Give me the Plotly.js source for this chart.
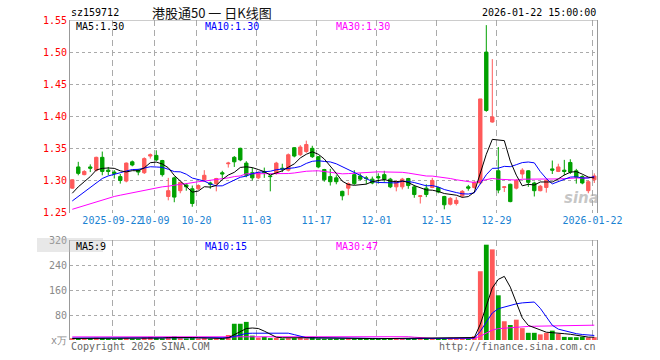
<!DOCTYPE html>
<html><head><meta charset="utf-8">
<script src="https://cdn.plot.ly/plotly-3.0.1.min.js"></script>
<style>html,body{margin:0;padding:0;background:#fff}#chart{width:660px;height:360px}</style>
</head><body><div id="chart"></div>
<script>
const dates = [
'2025-09-11','2025-09-12','2025-09-15','2025-09-16','2025-09-17','2025-09-18','2025-09-19','2025-09-22','2025-09-23','2025-09-24','2025-09-25','2025-09-26','2025-09-29','2025-09-30',
'2025-10-09','2025-10-10','2025-10-13','2025-10-14','2025-10-15','2025-10-16','2025-10-17','2025-10-20','2025-10-21','2025-10-22','2025-10-23','2025-10-24','2025-10-27','2025-10-28','2025-10-29','2025-10-30','2025-10-31',
'2025-11-03','2025-11-04','2025-11-05','2025-11-06','2025-11-07','2025-11-10','2025-11-11','2025-11-12','2025-11-13','2025-11-14','2025-11-17','2025-11-18','2025-11-19','2025-11-20','2025-11-21','2025-11-24','2025-11-25','2025-11-26','2025-11-27','2025-11-28',
'2025-12-01','2025-12-02','2025-12-03','2025-12-04','2025-12-05','2025-12-08','2025-12-09','2025-12-10','2025-12-11','2025-12-12','2025-12-15','2025-12-16','2025-12-17','2025-12-18','2025-12-19','2025-12-22','2025-12-23','2025-12-24','2025-12-25','2025-12-26','2025-12-29','2025-12-30','2025-12-31',
'2026-01-05','2026-01-06','2026-01-07','2026-01-08','2026-01-09','2026-01-12','2026-01-13','2026-01-14','2026-01-15','2026-01-16','2026-01-19','2026-01-20','2026-01-21','2026-01-22'];

const openP = [1.288,1.321,1.309,1.321,1.316,1.336,1.316,1.313,1.306,1.299,1.329,1.316,1.312,1.338,1.339,1.331,1.275,1.304,1.284,1.293,1.287,1.287,1.301,1.296,1.295,1.312,1.326,1.336,1.350,1.327,1.312,1.304,1.314,1.307,1.311,1.319,1.316,1.351,1.340,1.345,1.350,1.337,1.317,1.306,1.304,1.283,1.288,1.309,1.307,1.304,1.302,1.306,1.309,1.302,1.290,1.290,1.303,1.290,1.275,1.288,1.289,1.289,1.275,1.263,1.264,1.276,1.290,1.289,1.296,1.500,1.391,1.315,1.289,1.294,1.288,1.310,1.315,1.296,1.284,1.289,1.318,1.314,1.316,1.328,1.315,1.306,1.284,1.301];
const highP = [1.302,1.329,1.316,1.325,1.337,1.345,1.321,1.316,1.310,1.328,1.331,1.318,1.336,1.342,1.347,1.332,1.304,1.306,1.298,1.296,1.292,1.294,1.316,1.298,1.304,1.315,1.329,1.338,1.351,1.330,1.320,1.314,1.320,1.308,1.329,1.326,1.342,1.352,1.355,1.362,1.354,1.338,1.318,1.318,1.308,1.284,1.297,1.316,1.311,1.307,1.306,1.311,1.315,1.304,1.300,1.304,1.304,1.293,1.277,1.294,1.304,1.290,1.276,1.274,1.274,1.285,1.293,1.299,1.427,1.542,1.489,1.352,1.291,1.295,1.302,1.319,1.316,1.298,1.293,1.302,1.331,1.326,1.332,1.333,1.318,1.308,1.300,1.311];
const lowP = [1.287,1.308,1.308,1.313,1.314,1.308,1.308,1.303,1.295,1.297,1.322,1.308,1.310,1.334,1.330,1.306,1.269,1.266,1.280,1.284,1.259,1.285,1.298,1.287,1.283,1.303,1.320,1.321,1.330,1.305,1.300,1.302,1.304,1.283,1.309,1.313,1.314,1.336,1.338,1.343,1.335,1.319,1.298,1.292,1.294,1.269,1.277,1.293,1.300,1.294,1.294,1.295,1.298,1.288,1.283,1.286,1.287,1.273,1.264,1.274,1.288,1.280,1.255,1.261,1.261,1.273,1.284,1.287,1.294,1.407,1.390,1.280,1.282,1.266,1.286,1.303,1.290,1.275,1.283,1.281,1.310,1.313,1.308,1.310,1.295,1.294,1.280,1.296];
const closeP = [1.301,1.311,1.314,1.319,1.336,1.314,1.314,1.311,1.300,1.327,1.324,1.313,1.334,1.340,1.332,1.309,1.284,1.274,1.297,1.290,1.264,1.292,1.308,1.294,1.303,1.310,1.327,1.329,1.332,1.308,1.304,1.312,1.312,1.306,1.327,1.318,1.340,1.338,1.352,1.356,1.337,1.321,1.301,1.298,1.298,1.276,1.295,1.295,1.302,1.303,1.296,1.304,1.302,1.290,1.298,1.302,1.292,1.278,1.276,1.278,1.300,1.282,1.262,1.272,1.269,1.283,1.288,1.297,1.427,1.409,1.399,1.285,1.290,1.267,1.300,1.316,1.297,1.284,1.291,1.300,1.316,1.321,1.314,1.313,1.305,1.296,1.298,1.307];
const volume = [6,5,4,5,7,6,4,3,5,6,4,3,8,10,6,5,9,11,6,5,8,5,6,4,5,5,16,52,52,58,14,8,10,6,7,5,6,6,8,5,10,5,4,4,4,4,5,4,5,4,5,4,5,4,4,4,5,5,4,5,4,5,5,7,6,7,7,12,220,305,290,143,60,48,65,38,23,23,18,23,30,20,10,9,9,10,8,9];

const ma5Head = [1.280,1.290,1.298,1.306];
const ma10Head = [1.268,1.275,1.282,1.290,1.297,1.303,1.307,1.310,1.312];
const ma30Head = [1.255,1.258,1.261,1.264,1.267,1.270,1.273,1.275,1.277,1.279,1.281,1.283,1.285,1.287,1.288,1.290,1.291,1.293,1.294,1.295,1.297,1.298,1.299,1.300,1.302,1.303,1.304,1.306,1.307];
const vMa5Head = [5,5,5,5];
const vMa10Head = [6,6,6,6,6,6,5,5,5];
const vMa30Head = [10,10,10,10,10,10,10,10,10,10,10,10,10,10,10,10,10,10,10,10,10,10,10,10,10,10,10,10,10];

const tickDates = ['2025-09-22','2025-10-09','2025-10-20','2025-11-03','2025-11-17','2025-12-01','2025-12-15','2025-12-29','2026-01-22'];
const tickLabels = ['2025-09-22','10-09','10-20','11-03','11-17','12-01','12-15','12-29','2026-01-22'];
const priceTicks = [1.25,1.30,1.35,1.40,1.45,1.50,1.55];
const volTicks = [0,80,160,240,320];
const volTickLabels = ['x万','80','160','240','320'];
const legendPrice = ['MA5:1.30','MA10:1.30','MA30:1.30'];
const legendVol = ['MA5:9','MA10:15','MA30:47'];

const RED = '#ff5a5a', GREEN = '#00a000';
const idx = dates.map((d,i)=>i);
function movingAvg(vals, n, head){
  return vals.map((v,i)=>{
    if(i < head.length) return head[i];
    let s = 0; for(let j=i-n+1;j<=i;j++) s += vals[j];
    return s/n;
  });
}
const ma5 = movingAvg(closeP,5,ma5Head), ma10 = movingAvg(closeP,10,ma10Head), ma30 = movingAvg(closeP,30,ma30Head);
const vma5 = movingAvg(volume,5,vMa5Head), vma10 = movingAvg(volume,10,vMa10Head), vma30 = movingAvg(volume,30,vMa30Head);
const volColors = closeP.map((c,i)=> c >= openP[i] ? RED : GREEN);
const tickvals = tickDates.map(d=>dates.indexOf(d)-0.3);

const lineT = (y,color,xa,ya)=>({type:'scatter',mode:'lines',x:idx,y:y,xaxis:xa,yaxis:ya,line:{color:color,width:1},hoverinfo:'skip'});
const traces = [
  {type:'candlestick',x:idx,open:openP,high:highP,low:lowP,close:closeP,xaxis:'x',yaxis:'y',whiskerwidth:0,
   increasing:{line:{color:RED,width:1},fillcolor:RED},decreasing:{line:{color:GREEN,width:1},fillcolor:GREEN},hoverinfo:'skip'},
  lineT(ma30,'#ff00ff','x','y'), lineT(ma10,'#0000ff','x','y'), lineT(ma5,'#000000','x','y'),
  {type:'bar',x:idx,y:volume,xaxis:'x2',yaxis:'y2',marker:{color:volColors,line:{width:0}},hoverinfo:'skip'},
  lineT(vma30,'#ff00ff','x2','y2'), lineT(vma10,'#0000ff','x2','y2'), lineT(vma5,'#000000','x2','y2')
];

const PX = px => (px-70)/527, PY = py => (340-py)/320;
const ann = (text,x,y,xanchor,color,size,extra)=>Object.assign({text:text,x:x,y:y,xref:'paper',yref:'paper',xanchor:xanchor,yanchor:'middle',showarrow:false,borderpad:0,font:{family:'DejaVu Sans Mono',size:size||10,color:color}},extra||{});
const mono = 'DejaVu Sans Mono';
const gridX = {showgrid:true,gridcolor:'#aaaaaa',gridwidth:1,griddash:'6px,4px',zeroline:false,showline:false,ticks:''};
const layout = {
  width:660,height:360,margin:{l:70,r:63,t:20,b:20,pad:0},
  paper_bgcolor:'#ffffff',plot_bgcolor:'#ffffff',showlegend:false,hovermode:false,
  boxgap:0.2,bargap:0.2,
  font:{family:mono,size:10,color:'#000'},
  xaxis:Object.assign({domain:[0,1],anchor:'y',range:[-0.38,87.45],rangeslider:{visible:false},tickmode:'array',tickvals:tickvals,ticktext:tickLabels,tickangle:0,tickfont:{family:mono,size:10,color:'#1a82d2'}},gridX),
  xaxis2:Object.assign({domain:[0,1],anchor:'y2',matches:'x',range:[-0.38,87.45],tickmode:'array',tickvals:tickvals,showticklabels:false},gridX),
  yaxis:{domain:[0.3984,1],anchor:'x',range:[1.25,1.55],tickmode:'array',tickvals:priceTicks,ticktext:priceTicks.map(v=>v.toFixed(2)),showgrid:true,gridcolor:'#aaaaaa',griddash:'dot',zeroline:false,showline:true,linecolor:'#999999',linewidth:1,mirror:true,ticks:'',tickfont:{family:mono,size:10,color:'#ff0000'}},
  yaxis2:{domain:[0,0.3125],anchor:'x2',range:[0,320],tickmode:'array',tickvals:volTicks,ticktext:volTickLabels,showgrid:true,gridcolor:'#aaaaaa',griddash:'dot',zeroline:false,showline:true,linecolor:'#999999',linewidth:1,mirror:true,ticks:'',tickfont:{family:mono,size:10,color:'#8a8a8a'}},
  shapes:[
    {type:'line',xref:'paper',yref:'y',x0:0,x1:1,y0:1.55,y1:1.55,line:{color:'#999999',width:1}},
    {type:'line',xref:'paper',yref:'y2',x0:0,x1:1,y0:320,y1:320,line:{color:'#999999',width:1}},
    {type:'rect',xref:'paper',yref:'paper',x0:PX(37),x1:PX(103),y0:PY(252),y1:PY(238),fillcolor:'rgba(190,190,190,0.35)',line:{width:0},layer:'above'}
  ],
  annotations:[
    ann('sz159712',0,PY(13),'left','#000',10),
    ann('港股通50 一 日K线图',PX(150.7),PY(13),'left','#111',13,{font:{family:'Noto Sans CJK SC',size:13,color:'#111'}}),
    ann('2026-01-22 15:00:00',1,PY(13),'right','#000',10),
    ann(legendPrice[0],PX(75),PY(27),'left','#000000',10),
    ann(legendPrice[1],PX(204.3),PY(27),'left','#0000ff',10),
    ann(legendPrice[2],PX(335),PY(27),'left','#ff00ff',10),
    ann(legendVol[0],PX(75),PY(246.5),'left','#000000',10),
    ann(legendVol[1],PX(204.3),PY(246.5),'left','#0000ff',10),
    ann(legendVol[2],PX(335),PY(246.5),'left','#ff00ff',10),
    ann('Copyright 2026 SINA.COM',0,PY(346),'left','#666666',10),
    ann('http://finance.sina.com.cn',1,PY(346),'right','#666666',10),
    ann('sina',PX(581),PY(198),'center','rgba(160,160,160,0.6)',15,{font:{family:'DejaVu Sans',size:15,color:'rgba(160,160,160,0.6)',style:'italic',weight:'bold'}})
  ]
};
Plotly.newPlot('chart',traces,layout,{staticPlot:true,displayModeBar:false});
</script></body></html>
